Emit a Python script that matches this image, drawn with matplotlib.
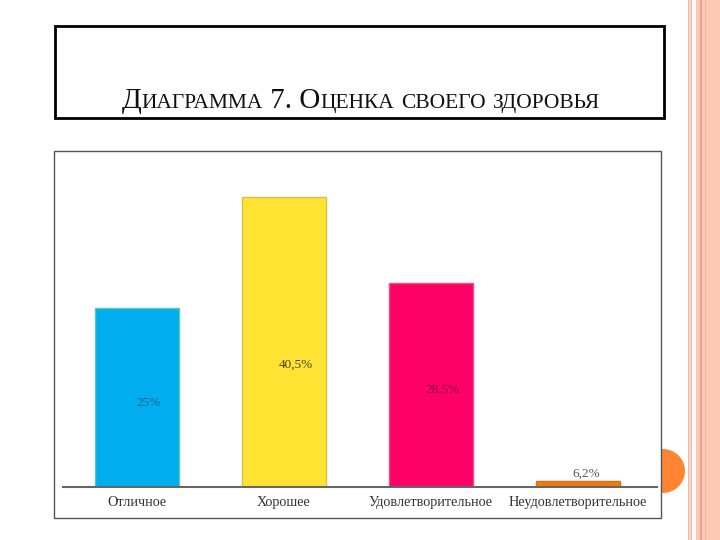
import numpy as np
import matplotlib.pyplot as plt
from matplotlib.patches import Rectangle, Ellipse

W, H = 720, 540

categories = ['Отличное', 'Хорошее', 'Удовлетворительное', 'Неудовлетворительное']
# bar heights as drawn in the picture (the last bar is drawn much shorter than its label)
bar_heights = [25, 40.5, 28.5, 0.85]
value_labels = ['25%', '40,5%', '28.5%', '6,2%']
title = 'Диаграмма 7. Оценка своего здоровья'

bar_colors = ['#00aeef', '#ffe332', '#ff0066', '#f07a10']
edge_colors = ['#5fc4b8', '#d8c04a', '#f05088', '#e07010']
label_colors = ['#1f5f8f', '#4d4220', '#7d1042', '#555555']
label_y = [11.7, 17.0, 13.5, 1.9]

SERIF = ['Liberation Serif', 'DejaVu Serif']


def fx(px):
    return px / W


def fy(py):
    # py measured from the top of the picture
    return 1 - py / H


fig = plt.figure(figsize=(7.2, 5.4), dpi=100)
fig.patch.set_facecolor('white')

# decorative stripes on the right edge
stripes = [(688, 689, '#f2b9a6'), (689, 691, '#fad6ca'), (691, 692, '#f2b9a6'),
           (696, 700, '#fcc6b2'), (700, 702, '#efa286'), (702, 705, '#fcc9b4'),
           (705, 706, '#f4b49c'), (706, 720, '#fcc9b4')]
for x0, x1, c in stripes:
    fig.add_artist(Rectangle((fx(x0), 0), fx(x1 - x0), 1, transform=fig.transFigure,
                             facecolor=c, edgecolor='none', zorder=0))

# orange circle partly behind the chart image
fig.add_artist(Ellipse((fx(663), fy(471)), fx(44), 44 / H, transform=fig.transFigure,
                       facecolor='#ff8533', edgecolor='none', zorder=1))

# chart image frame
fig.add_artist(Rectangle((fx(54), fy(518)), fx(661 - 54), (518 - 151) / H,
                         transform=fig.transFigure, facecolor='white',
                         edgecolor='#555555', linewidth=1, zorder=2))

# title box
fig.add_artist(Rectangle((fx(55), fy(118)), fx(664 - 55), (118 - 26) / H,
                         transform=fig.transFigure, facecolor='white',
                         edgecolor='black', linewidth=2, zorder=2))

# title in small caps: capitals large, lowercase letters as smaller capitals
BIG, SMALL = 21, 15.5
chunks = []
for ch in title:
    small = ch.islower()
    txt = ch.upper()
    if chunks and chunks[-1][1] == small:
        chunks[-1][0] += txt
    else:
        chunks.append([txt, small])

renderer = fig.canvas.get_renderer()


def advance(s, size):
    t1 = fig.text(0, 0, '|' + s + '|', fontsize=size, family=SERIF)
    t2 = fig.text(0, 0, '||', fontsize=size, family=SERIF)
    w = t1.get_window_extent(renderer).width - t2.get_window_extent(renderer).width
    t1.remove()
    t2.remove()
    return w


widths = [advance(s, SMALL if sm else BIG) for s, sm in chunks]
x = 361 - sum(widths) / 2
for (s, sm), w in zip(chunks, widths):
    fig.text(fx(x), fy(108), s, fontsize=SMALL if sm else BIG, family=SERIF,
             ha='left', va='baseline', color='#111111', zorder=3)
    x += w

# bar chart
ax = fig.add_axes([fx(63), fy(487), fx(657 - 63), (487 - 151) / H], zorder=3)
ax.patch.set_alpha(0)
xs = np.arange(len(categories))
ax.bar(xs, bar_heights, width=0.57, color=bar_colors, edgecolor=edge_colors, linewidth=1)
for i, (lab, c) in enumerate(zip(value_labels, label_colors)):
    dx = 0.055 if i == 3 else 0.08
    ax.text(xs[i] + dx, label_y[i], lab, ha='center', va='center', fontsize=9.5,
            family=SERIF, color=c)

ax.set_xlim(-0.503, 3.537)
ax.set_ylim(0, 46.86)
for side in ['top', 'left', 'right']:
    ax.spines[side].set_visible(False)
ax.spines['bottom'].set_color('#666666')
ax.spines['bottom'].set_linewidth(1.5)
ax.set_yticks([])
ax.set_xticks(xs, categories)
ax.tick_params(axis='x', length=0, pad=6.5, labelsize=10.3, labelcolor='#333333')
for t in ax.get_xticklabels():
    t.set_family(SERIF)

fig.savefig('out.png', dpi=100)
